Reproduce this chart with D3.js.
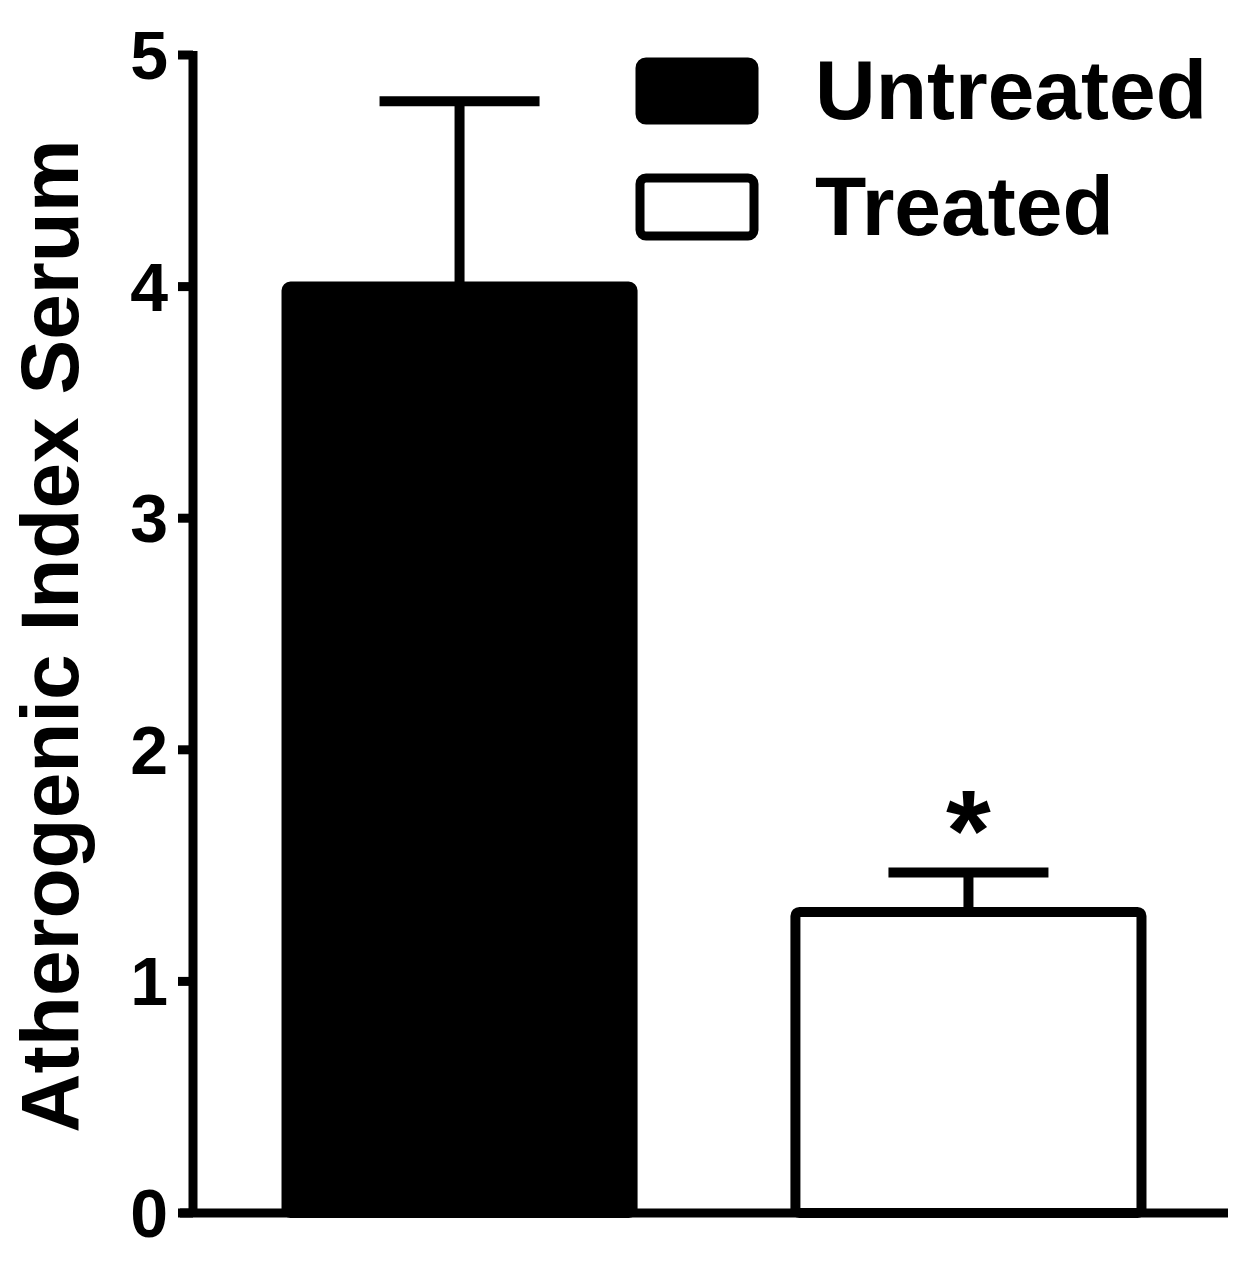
<!DOCTYPE html>
<html><head><meta charset="utf-8">
<script src="https://cdn.jsdelivr.net/npm/d3@7"></script>
<style>body{margin:0;background:#fff}</style></head>
<body><svg id="c" width="1250" height="1267"></svg>
<script>
const categories=["Untreated","Treated"];
const means=[4.0,1.30];
const errors=[0.80,0.17];
const fills=["#000","#fff"];
const yTicks=[0,1,2,3,4,5];
const svg=d3.select("#c");
const font="Liberation Sans, Arial, sans-serif";
const y=d3.scaleLinear().domain([0,5]).range([1213,55]);
const x=d3.scaleBand().domain(categories).range([200,1228]).paddingInner(0.32).paddingOuter(0.17);
const g=svg.append("g");
categories.forEach((c,i)=>{
  const cx=x(c)+x.bandwidth()/2;
  g.append("line").attr("x1",cx).attr("x2",cx).attr("y1",y(means[i])).attr("y2",y(means[i]+errors[i])).attr("stroke","#000").attr("stroke-width",10);
  g.append("line").attr("x1",cx-80).attr("x2",cx+80).attr("y1",y(means[i]+errors[i])).attr("y2",y(means[i]+errors[i])).attr("stroke","#000").attr("stroke-width",10);
  g.append("rect").attr("x",x(c)).attr("y",y(means[i])).attr("width",x.bandwidth()).attr("height",y(0)-y(means[i]))
   .attr("fill",fills[i]).attr("stroke","#000").attr("stroke-width",10).attr("stroke-linejoin","round").attr("rx",4);
});
svg.append("text").attr("x",x("Treated")+x.bandwidth()/2).attr("y",870).attr("text-anchor","middle")
 .attr("font-family",font).attr("font-weight","bold").attr("font-size",115).text("*");
svg.append("line").attr("x1",180).attr("x2",1228).attr("y1",y(0)).attr("y2",y(0)).attr("stroke","#000").attr("stroke-width",9);
svg.append("line").attr("x1",193).attr("x2",193).attr("y1",y(5)-4).attr("y2",y(0)+4).attr("stroke","#000").attr("stroke-width",9);
yTicks.forEach(t=>{
  svg.append("line").attr("x1",178).attr("x2",193).attr("y1",y(t)).attr("y2",y(t)).attr("stroke","#000").attr("stroke-width",9);
  svg.append("text").attr("x",168).attr("y",y(t)+24).attr("text-anchor","end").attr("font-family",font).attr("font-weight","bold").attr("font-size",68).text(t);
});
svg.append("text").attr("transform","translate(78,636) rotate(-90)").attr("text-anchor","middle")
 .attr("font-family",font).attr("font-weight","bold").attr("font-size",82).text("Atherogenic Index Serum");
const leg=[{y:62},{y:178}];
categories.forEach((c,i)=>{
  svg.append("rect").attr("x",640).attr("y",leg[i].y).attr("width",114).attr("height",58).attr("rx",6)
   .attr("fill",fills[i]).attr("stroke","#000").attr("stroke-width",9);
  svg.append("text").attr("x",815).attr("y",leg[i].y+57).attr("font-family",font).attr("font-weight","bold").attr("font-size",84).text(c);
});
</script></body></html>
